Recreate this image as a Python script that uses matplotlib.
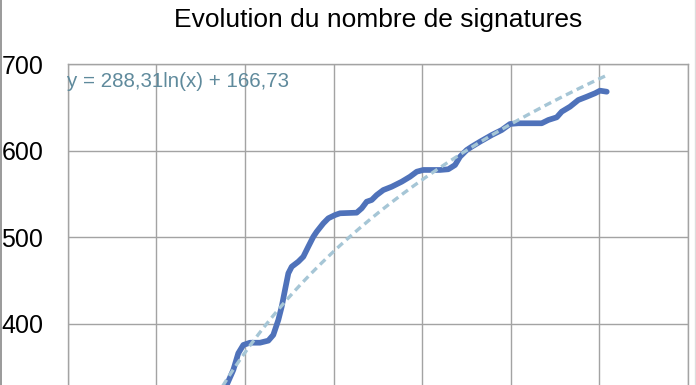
import matplotlib
matplotlib.use("Agg")
import matplotlib.pyplot as plt
from matplotlib.lines import Line2D
import numpy as np

plt.rcParams['font.family'] = ['Liberation Sans', 'DejaVu Sans']

# Data (x in axis units, y = number of signatures)
x_vals = [1.741, 1.794, 1.869, 1.925, 1.982, 2.057, 2.170, 2.264, 2.320, 2.377,
          2.415, 2.452, 2.490, 2.528, 2.602, 2.659, 2.715, 2.772, 2.810, 2.885,
          2.941, 3.017, 3.073, 3.261, 3.318, 3.374, 3.431, 3.487, 3.562, 3.656,
          3.769, 3.863, 3.939, 4.013, 4.202, 4.295, 4.371, 4.427, 4.503, 4.559,
          4.653, 4.785, 4.898, 4.992, 5.085, 5.349, 5.424, 5.519, 5.575, 5.669,
          5.762, 5.857, 5.951, 6.007, 6.083]
y_vals = [317.6, 329.1, 346.5, 365.8, 375.4, 378.0, 378.0, 380.4, 387.0, 404.3,
          419.7, 439.0, 458.3, 465.9, 471.7, 477.5, 489.1, 500.6, 506.4, 516.1,
          521.9, 525.7, 527.7, 528.4, 533.5, 541.1, 543.1, 548.8, 554.6, 558.4,
          564.2, 570.0, 575.8, 577.8, 577.8, 578.6, 583.5, 593.1, 600.9, 604.7,
          610.5, 618.2, 624.0, 631.0, 631.8, 631.8, 635.6, 638.7, 645.2, 651.0,
          658.7, 662.5, 666.5, 669.5, 668.3]

# Logarithmic trendline coefficients shown in the chart
trend_a = 288.31
trend_b = 166.73
trend_label = "y = 288,31ln(x) + 166,73"

y_ticks = [400, 500, 600, 700]
y_tick_labels = ["400", "500", "600", "700"]
x_grid = [0, 1, 2, 3, 4, 5, 6, 7]

title = "Evolution du nombre de signatures"

W, H = 696, 385
fig = plt.figure(figsize=(W / 100, H / 100), dpi=100)
fig.patch.set_facecolor('white')

left_px, right_px, top_px = 67.7, 688.0, 64.3
ax = fig.add_axes([left_px / W, 0, (right_px - left_px) / W, (H - top_px) / H])
ax.set_xlim(0, 7)
ax.set_ylim(329.1, 700)

grid_color = '#a3a3a3'
ax.set_xticks(x_grid)
ax.set_xticklabels([])
ax.set_yticks(y_ticks)
ax.set_yticklabels(y_tick_labels, fontsize=18, color='black')
ax.tick_params(axis='both', length=0)
ax.tick_params(axis='y', pad=17.5)
ax.grid(True, color=grid_color, linewidth=1.0)
ax.set_axisbelow(True)
for side in ['top', 'left', 'right']:
    ax.spines[side].set_color(grid_color)
    ax.spines[side].set_linewidth(1.0)
ax.spines['bottom'].set_visible(False)

# Main series
ax.plot(x_vals, y_vals, color='#4f72ba', linewidth=4.1,
        solid_capstyle='round', solid_joinstyle='round', zorder=3)

# Trendline
tx = np.linspace(min(x_vals), max(x_vals), 200)
ty = trend_a * np.log(tx) + trend_b
ax.plot(tx, ty, color='#a6c6d6', linewidth=2.4, linestyle=(0, (2.2, 1.4)),
        zorder=4)

fig.text(67.3 / W, 1 - 87.3 / H, trend_label, fontsize=14.8,
         color='#5f8a9c', ha='left', va='baseline')

fig.text((left_px + right_px) / 2 / W, 1 - 26.7 / H, title, fontsize=19,
         color='black', ha='center', va='baseline')

# Frame lines at figure edges
fig.add_artist(Line2D([1.2 / W, 1.2 / W], [0, 1], color='#9a9a9a',
                      linewidth=1.4, transform=fig.transFigure))
fig.add_artist(Line2D([695 / W, 695 / W], [0, 1], color='#dddddd',
                      linewidth=1.0, transform=fig.transFigure))

fig.savefig('out.png', dpi=100)
